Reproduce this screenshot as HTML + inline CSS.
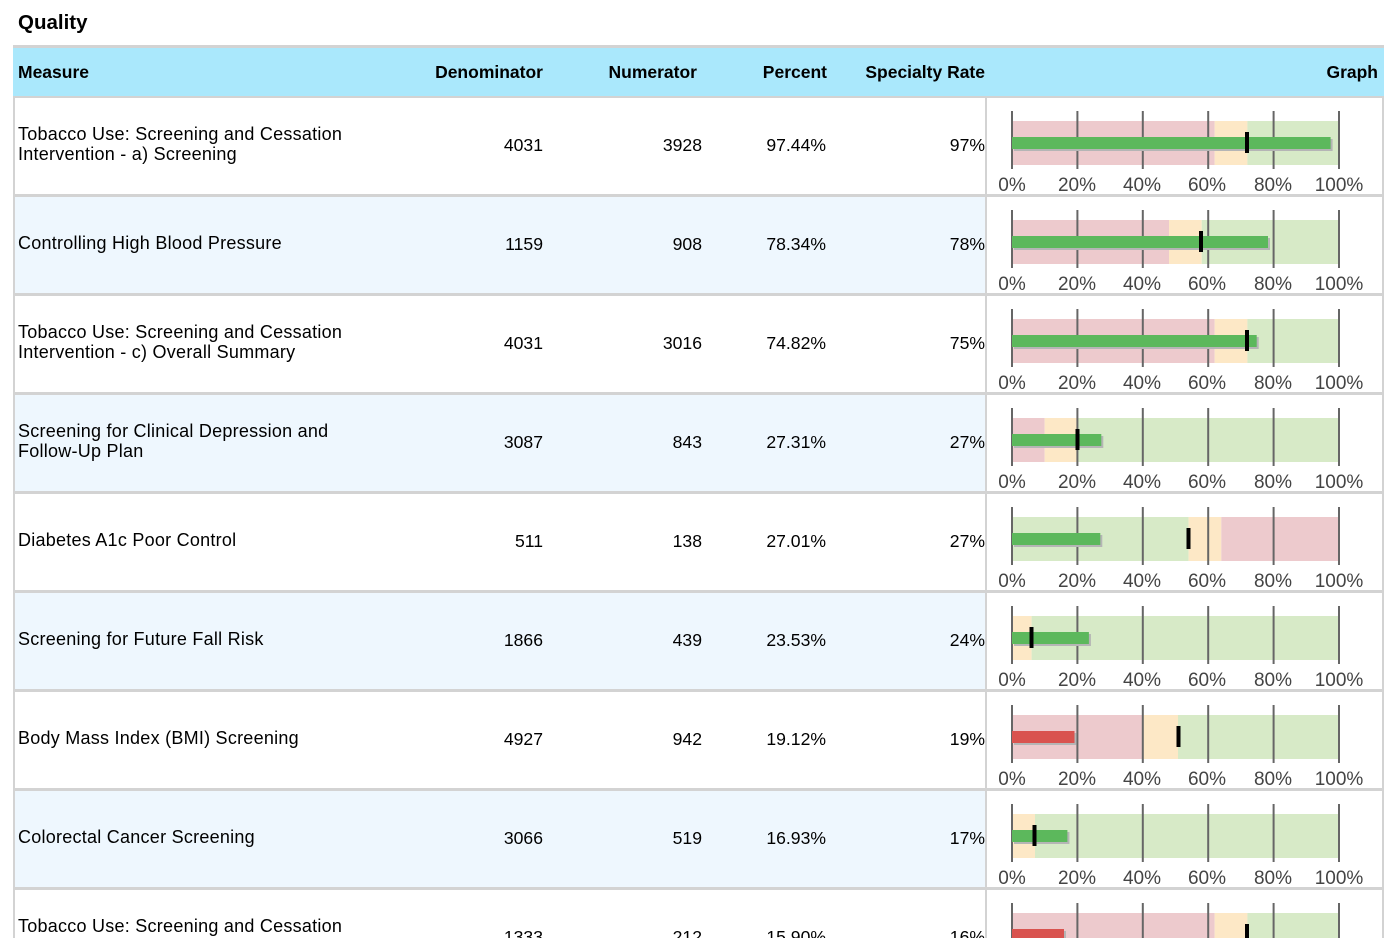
<!DOCTYPE html>
<html><head><meta charset="utf-8"><style>
html,body{margin:0;padding:0;background:#fff;overflow:hidden;width:1396px;height:938px;}
svg{display:block;font-family:"Liberation Sans",Arial,sans-serif;}
.h{font-weight:bold;font-size:17.5px;fill:#000;}
.t{font-size:17.6px;fill:#000;}
.m{font-size:18px;letter-spacing:0.25px;}
.a{font-size:19px;fill:#444;text-anchor:middle;}
.r{text-anchor:end;}
</style></head><body>
<svg width="1396" height="938" viewBox="0 0 1396 938" xmlns="http://www.w3.org/2000/svg">
<text x="18" y="29" class="h" style="font-size:20.5px">Quality</text>
<rect x="13" y="45" width="1371" height="3" fill="#d3d3d3"/>
<rect x="13" y="48" width="1371" height="48" fill="#aae8fc"/>
<rect x="13" y="96" width="1371" height="2" fill="#d3d3d3"/>
<text x="18" y="78" class="h">Measure</text>
<text x="543" y="78" class="h r">Denominator</text>
<text x="697" y="78" class="h r">Numerator</text>
<text x="827" y="78" class="h r">Percent</text>
<text x="985" y="78" class="h r">Specialty Rate</text>
<text x="1378" y="78" class="h r">Graph</text>

<defs>
<g id="ax">
<g stroke="#666" stroke-width="2">
<line x1="1012" y1="14" x2="1012" y2="72"/><line x1="1077.4" y1="14" x2="1077.4" y2="72"/><line x1="1142.8" y1="14" x2="1142.8" y2="72"/><line x1="1208.2" y1="14" x2="1208.2" y2="72"/><line x1="1273.6" y1="14" x2="1273.6" y2="72"/><line x1="1339" y1="14" x2="1339" y2="72"/>
</g>
<text x="1012" y="94" class="a">0%</text><text x="1077" y="94" class="a">20%</text><text x="1142" y="94" class="a">40%</text><text x="1207" y="94" class="a">60%</text><text x="1273" y="94" class="a">80%</text><text x="1339" y="94" class="a">100%</text>
</g>
</defs>

<g>
<rect x="15" y="98" width="970" height="96" fill="#fff"/>
<rect x="15" y="197" width="970" height="96" fill="#eef7fe"/>
<rect x="15" y="296" width="970" height="96" fill="#fff"/>
<rect x="15" y="395" width="970" height="96" fill="#eef7fe"/>
<rect x="15" y="494" width="970" height="96" fill="#fff"/>
<rect x="15" y="593" width="970" height="96" fill="#eef7fe"/>
<rect x="15" y="692" width="970" height="96" fill="#fff"/>
<rect x="15" y="791" width="970" height="96" fill="#eef7fe"/>
<rect x="15" y="890" width="970" height="48" fill="#fff"/>
</g>
<g fill="#d3d3d3">
<rect x="13" y="98" width="2" height="840"/>
<rect x="1382" y="98" width="2" height="840"/>
<rect x="985" y="98" width="2" height="840"/>
<rect x="13" y="194" width="1371" height="3"/>
<rect x="13" y="293" width="1371" height="3"/>
<rect x="13" y="392" width="1371" height="3"/>
<rect x="13" y="491" width="1371" height="3"/>
<rect x="13" y="590" width="1371" height="3"/>
<rect x="13" y="689" width="1371" height="3"/>
<rect x="13" y="788" width="1371" height="3"/>
<rect x="13" y="887" width="1371" height="3"/>
</g>

<g transform="translate(0,97)">
<text x="18" y="43" class="t m">Tobacco Use: Screening and Cessation</text>
<text x="18" y="63" class="t m">Intervention - a) Screening</text>
<text x="543" y="54" class="t r">4031</text><text x="702" y="54" class="t r">3928</text><text x="826" y="54" class="t r">97.44%</text><text x="985" y="54" class="t r">97%</text>
<rect x="1012" y="24" width="202.7" height="44" fill="#edcacd"/><rect x="1214.7" y="24" width="32.7" height="44" fill="#fde8c6"/><rect x="1247.4" y="24" width="91.6" height="44" fill="#d7eac7"/>
<use href="#ax"/>
<rect x="1014" y="42" width="318.6" height="12" fill="#b5b5b5"/><rect x="1012" y="40" width="318.6" height="12" fill="#5cb85c"/>
<rect x="1245" y="35" width="4" height="21" fill="#000"/>
</g>
<g transform="translate(0,196)">
<text x="18" y="53" class="t m">Controlling High Blood Pressure</text>
<text x="543" y="54" class="t r">1159</text><text x="702" y="54" class="t r">908</text><text x="826" y="54" class="t r">78.34%</text><text x="985" y="54" class="t r">78%</text>
<rect x="1012" y="24" width="157" height="44" fill="#edcacd"/><rect x="1169" y="24" width="32.7" height="44" fill="#fde8c6"/><rect x="1201.7" y="24" width="137.3" height="44" fill="#d7eac7"/>
<use href="#ax"/>
<rect x="1014" y="42" width="256" height="12" fill="#b5b5b5"/><rect x="1012" y="40" width="256" height="12" fill="#5cb85c"/>
<rect x="1199" y="35" width="4" height="21" fill="#000"/>
</g>
<g transform="translate(0,295)">
<text x="18" y="43" class="t m">Tobacco Use: Screening and Cessation</text>
<text x="18" y="63" class="t m">Intervention - c) Overall Summary</text>
<text x="543" y="54" class="t r">4031</text><text x="702" y="54" class="t r">3016</text><text x="826" y="54" class="t r">74.82%</text><text x="985" y="54" class="t r">75%</text>
<rect x="1012" y="24" width="202.7" height="44" fill="#edcacd"/><rect x="1214.7" y="24" width="32.7" height="44" fill="#fde8c6"/><rect x="1247.4" y="24" width="91.6" height="44" fill="#d7eac7"/>
<use href="#ax"/>
<rect x="1014" y="42" width="244.7" height="12" fill="#b5b5b5"/><rect x="1012" y="40" width="244.7" height="12" fill="#5cb85c"/>
<rect x="1245" y="35" width="4" height="21" fill="#000"/>
</g>
<g transform="translate(0,394)">
<text x="18" y="43" class="t m">Screening for Clinical Depression and</text>
<text x="18" y="63" class="t m">Follow-Up Plan</text>
<text x="543" y="54" class="t r">3087</text><text x="702" y="54" class="t r">843</text><text x="826" y="54" class="t r">27.31%</text><text x="985" y="54" class="t r">27%</text>
<rect x="1012" y="24" width="32.7" height="44" fill="#edcacd"/><rect x="1044.7" y="24" width="32.7" height="44" fill="#fde8c6"/><rect x="1077.4" y="24" width="261.6" height="44" fill="#d7eac7"/>
<use href="#ax"/>
<rect x="1014" y="42" width="89.3" height="12" fill="#b5b5b5"/><rect x="1012" y="40" width="89.3" height="12" fill="#5cb85c"/>
<rect x="1075.5" y="35" width="4" height="21" fill="#000"/>
</g>
<g transform="translate(0,493)">
<text x="18" y="53" class="t m">Diabetes A1c Poor Control</text>
<text x="543" y="54" class="t r">511</text><text x="702" y="54" class="t r">138</text><text x="826" y="54" class="t r">27.01%</text><text x="985" y="54" class="t r">27%</text>
<rect x="1012" y="24" width="176.6" height="44" fill="#d7eac7"/><rect x="1188.6" y="24" width="32.7" height="44" fill="#fde8c6"/><rect x="1221.3" y="24" width="117.7" height="44" fill="#edcacd"/>
<use href="#ax"/>
<rect x="1014" y="42" width="88.3" height="12" fill="#b5b5b5"/><rect x="1012" y="40" width="88.3" height="12" fill="#5cb85c"/>
<rect x="1186.5" y="35" width="4" height="21" fill="#000"/>
</g>
<g transform="translate(0,592)">
<text x="18" y="53" class="t m">Screening for Future Fall Risk</text>
<text x="543" y="54" class="t r">1866</text><text x="702" y="54" class="t r">439</text><text x="826" y="54" class="t r">23.53%</text><text x="985" y="54" class="t r">24%</text>
<rect x="1012" y="24" width="19.6" height="44" fill="#fde8c6"/><rect x="1031.6" y="24" width="307.4" height="44" fill="#d7eac7"/>
<use href="#ax"/>
<rect x="1014" y="42" width="76.9" height="12" fill="#b5b5b5"/><rect x="1012" y="40" width="76.9" height="12" fill="#5cb85c"/>
<rect x="1029.5" y="35" width="4" height="21" fill="#000"/>
</g>
<g transform="translate(0,691)">
<text x="18" y="53" class="t m">Body Mass Index (BMI) Screening</text>
<text x="543" y="54" class="t r">4927</text><text x="702" y="54" class="t r">942</text><text x="826" y="54" class="t r">19.12%</text><text x="985" y="54" class="t r">19%</text>
<rect x="1012" y="24" width="131" height="44" fill="#edcacd"/><rect x="1143" y="24" width="35" height="44" fill="#fde8c6"/><rect x="1178" y="24" width="161" height="44" fill="#d7eac7"/>
<use href="#ax"/>
<rect x="1014" y="42" width="62.5" height="12" fill="#b5b5b5"/><rect x="1012" y="40" width="62.5" height="12" fill="#d9534f"/>
<rect x="1176.5" y="35" width="4" height="21" fill="#000"/>
</g>
<g transform="translate(0,790)">
<text x="18" y="53" class="t m">Colorectal Cancer Screening</text>
<text x="543" y="54" class="t r">3066</text><text x="702" y="54" class="t r">519</text><text x="826" y="54" class="t r">16.93%</text><text x="985" y="54" class="t r">17%</text>
<rect x="1012" y="24" width="23" height="44" fill="#fde8c6"/><rect x="1035" y="24" width="304" height="44" fill="#d7eac7"/>
<use href="#ax"/>
<rect x="1014" y="42" width="55.4" height="12" fill="#b5b5b5"/><rect x="1012" y="40" width="55.4" height="12" fill="#5cb85c"/>
<rect x="1032.5" y="35" width="4" height="21" fill="#000"/>
</g>
<g transform="translate(0,889)">
<text x="18" y="43" class="t m">Tobacco Use: Screening and Cessation</text>
<text x="18" y="63" class="t m">Intervention - b) Cessation Intervention</text>
<text x="543" y="54" class="t r">1333</text><text x="702" y="54" class="t r">212</text><text x="826" y="54" class="t r">15.90%</text><text x="985" y="54" class="t r">16%</text>
<rect x="1012" y="24" width="202.7" height="44" fill="#edcacd"/><rect x="1214.7" y="24" width="32.7" height="44" fill="#fde8c6"/><rect x="1247.4" y="24" width="91.6" height="44" fill="#d7eac7"/>
<use href="#ax"/>
<rect x="1014" y="42" width="52" height="12" fill="#b5b5b5"/><rect x="1012" y="40" width="52" height="12" fill="#d9534f"/>
<rect x="1245" y="35" width="4" height="21" fill="#000"/>
</g>
</svg>
</body></html>
